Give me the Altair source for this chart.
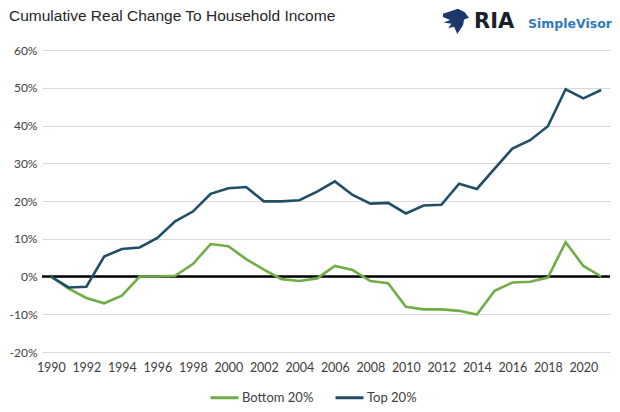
import altair as alt
import pandas as pd

years = list(range(1990, 2022))
top_20 = [0.0, -2.9, -2.7, 5.3, 7.3, 7.7, 10.2, 14.6, 17.2, 21.9, 23.4, 23.7, 19.9, 19.9, 20.2, 22.5,
          25.2, 21.6, 19.3, 19.5, 16.7, 18.8, 19.0, 24.6, 23.2, 28.6, 33.9, 36.1, 39.8, 49.6, 47.2, 49.4]
bottom_20 = [0.0, -3.2, -5.7, -7.1, -5.1, 0.0, 0.0, 0.2, 3.3, 8.6, 8.0, 4.6, 1.8, -0.7, -1.2, -0.5,
             2.8, 1.7, -1.2, -1.8, -8.0, -8.7, -8.7, -9.1, -10.1, -3.8, -1.6, -1.4, -0.3, 9.1, 2.8, 0.0]
series_names = ["Bottom 20%", "Top 20%"]
series_colors = ["#70AD47", "#1F4E66"]
y_ticks = [-20, -10, 0, 10, 20, 30, 40, 50, 60]
x_ticks = list(range(1990, 2021, 2))
title_text = "Cumulative Real Change To Household Income"

rows = []
for y, b, t in zip(years, bottom_20, top_20):
    rows.append({"year": y, "value": b, "series": "Bottom 20%"})
    rows.append({"year": y, "value": t, "series": "Top 20%"})
df = pd.DataFrame(rows)

W, H = 568, 302
FONT = "Lato"

y_axis = alt.Axis(values=y_ticks, labelExpr="datum.value + '%'", title=None, grid=True,
                  gridColor="#D9D9D9", gridWidth=1, domain=False, ticks=False,
                  labelPadding=5, labelFontSize=12, labelColor="#404040", labelFont=FONT,
                  labelOverlap=False, tickCount=9)
y_scale = alt.Scale(domain=[-20, 60], nice=False, zero=False)

x_enc = alt.X("year:Q", scale=alt.Scale(domain=[1989.5, 2021.5], nice=False, zero=False),
              axis=alt.Axis(values=x_ticks, format="d", title=None, grid=False, domain=False,
                            ticks=False, labelPadding=9, labelFontSize=12.5, labelColor="#404040",
                            labelFont=FONT, labelOverlap=False))
y_enc = alt.Y("value:Q", scale=y_scale, axis=y_axis)

zero = alt.Chart(pd.DataFrame({"value": [0]})).mark_rule(color="black", strokeWidth=2.5).encode(
    y=alt.Y("value:Q", scale=y_scale, axis=y_axis)
)

lines = alt.Chart(df).mark_line(strokeWidth=2.6).encode(
    x=x_enc,
    y=y_enc,
    color=alt.Color("series:N",
                    scale=alt.Scale(domain=series_names, range=series_colors),
                    legend=alt.Legend(title=None, orient="none", legendX=167, legendY=332,
                                      direction="horizontal", symbolType="stroke",
                                      symbolSize=784, symbolStrokeWidth=3, labelFontSize=13,
                                      labelFont=FONT, labelColor="#404040", columnPadding=15,
                                      labelOffset=2, padding=0)),
)

title = alt.Chart(pd.DataFrame({"t": [title_text]})).mark_text(
    align="left", baseline="alphabetic", font="Liberation Sans", fontSize=15.5, color="#262626"
).encode(x=alt.value(-33), y=alt.value(-29), text="t:N")

eagle_path = ("M-1,-0.55 L0.15,-0.95 L0.65,-0.7 L1,-0.25 L0.62,-0.12 L0.55,0.3 L0.1,1 "
              "L-0.15,0.45 L-0.6,0.55 L-0.35,0.22 L-0.95,0.12 L-0.45,-0.08 L-1,-0.3 Z")
icon = alt.Chart(pd.DataFrame({"i": [1]})).mark_point(
    shape=eagle_path, filled=True, size=676, color="#1B3A6B", opacity=1
).encode(x=alt.value(414), y=alt.value(-29))

ria = alt.Chart(pd.DataFrame({"t": ["RIA"]})).mark_text(
    align="left", baseline="alphabetic", font="DejaVu Sans", fontWeight="bold", fontSize=21,
    color="#1a1f2b"
).encode(x=alt.value(432), y=alt.value(-22), text="t:N")

sv = alt.Chart(pd.DataFrame({"t": ["SimpleVisor"]})).mark_text(
    align="left", baseline="alphabetic", font="DejaVu Sans", fontWeight="bold", fontSize=12.5,
    color="#2F7AB9"
).encode(x=alt.value(486), y=alt.value(-22), text="t:N")

chart = alt.layer(zero, lines, title, icon, ria, sv).properties(
    width=W, height=H,
    autosize=alt.AutoSizeParams(type="none"),
    padding={"left": 34, "top": 42, "right": 2, "bottom": 52},
    background="white",
).configure_view(stroke=None)

chart.save("out.html", embed_options={"renderer": "svg", "actions": False})
